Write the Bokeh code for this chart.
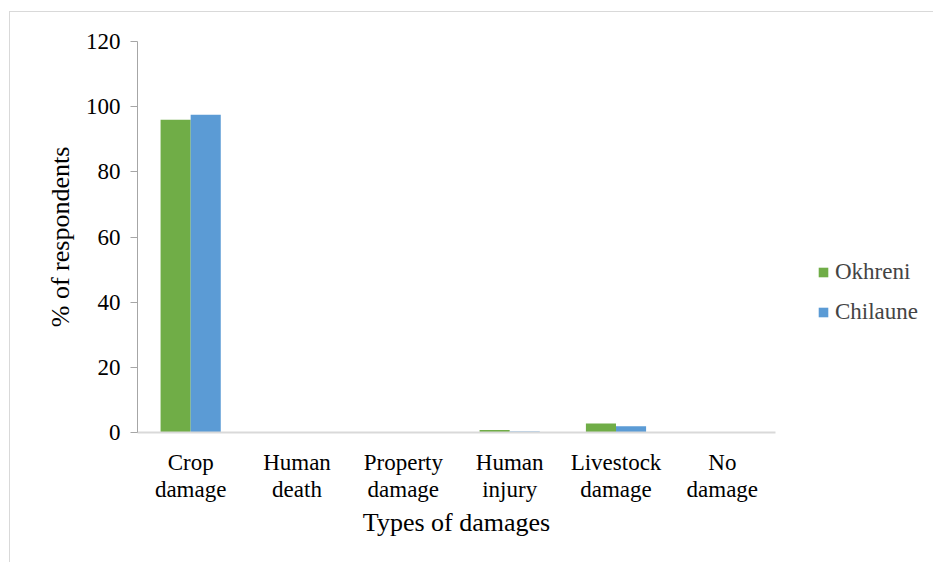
from bokeh.plotting import figure
from bokeh.models import FactorRange, Legend, LegendItem, ColumnDataSource
from bokeh.transform import dodge
from bokeh.embed import file_html
from bokeh.resources import INLINE

categories = ["Crop\ndamage", "Human\ndeath", "Property\ndamage", "Human\ninjury", "Livestock\ndamage", "No\ndamage"]
okhreni = [96, 0, 0, 0.8, 2.8, 0]
chilaune = [97.5, 0, 0, 0.3, 1.9, 0]
y_ticks = [0, 20, 40, 60, 80, 100, 120]

src = ColumnDataSource(dict(cat=categories, okhreni=okhreni, chilaune=chilaune))

FONT = "Liberation Serif"

p = figure(frame_width=638, frame_height=391, x_range=FactorRange(*categories, range_padding=0),
           y_range=(0, 120), output_backend="svg", toolbar_location=None,
           min_border_left=127, min_border_top=29, min_border_bottom=130, min_border_right=0)
p.x_range.factor_padding = 0
p.styles = {"border-left": "1px solid #d9d9d9", "border-top": "1px solid #d9d9d9",
            "margin-left": "9px", "margin-top": "11px"}

r1 = p.vbar(x=dodge("cat", -0.1415, range=p.x_range), top="okhreni", width=0.283, source=src,
            fill_color="#70AD47", line_color=None)
r2 = p.vbar(x=dodge("cat", 0.1415, range=p.x_range), top="chilaune", width=0.283, source=src,
            fill_color="#5B9BD5", line_color=None)

p.outline_line_color = None
p.xgrid.grid_line_color = None
p.ygrid.grid_line_color = None

p.yaxis.ticker = y_ticks
p.yaxis.axis_line_color = "#a6a6a6"
p.yaxis.major_tick_line_color = "#a6a6a6"
p.yaxis.major_tick_out = 7
p.yaxis.major_tick_in = 0
p.yaxis.minor_tick_line_color = None
p.yaxis.major_label_standoff = 10
p.yaxis.axis_label = "% of respondents"

p.xaxis.axis_line_color = "#d9d9d9"
p.xaxis.axis_line_width = 2
p.xaxis.major_tick_line_color = None
p.xaxis.major_label_standoff = 11
p.xaxis.major_label_text_line_height = 1.1
p.xaxis.axis_label = "Types of damages"

for ax in (p.xaxis, p.yaxis):
    ax.major_label_text_font = FONT
    ax.major_label_text_font_size = "23px"
    ax.major_label_text_color = "#000000"
    ax.axis_label_text_font = FONT
    ax.axis_label_text_font_size = "26px"
    ax.axis_label_text_font_style = "normal"
    ax.axis_label_text_color = "#000000"
p.xaxis.axis_label_standoff = 3
p.yaxis.axis_label_standoff = 8

legend = Legend(items=[LegendItem(label="Okhreni", renderers=[r1]),
                       LegendItem(label="Chilaune", renderers=[r2])],
                location=(42, 107), orientation="vertical",
                label_text_font=FONT, label_text_font_size="23px",
                glyph_width=12, glyph_height=12, label_standoff=6,
                spacing=14, padding=0, margin=0,
                border_line_color=None, background_fill_alpha=0)
p.add_layout(legend, "right")

open("out.html", "w").write(file_html(p, INLINE))
